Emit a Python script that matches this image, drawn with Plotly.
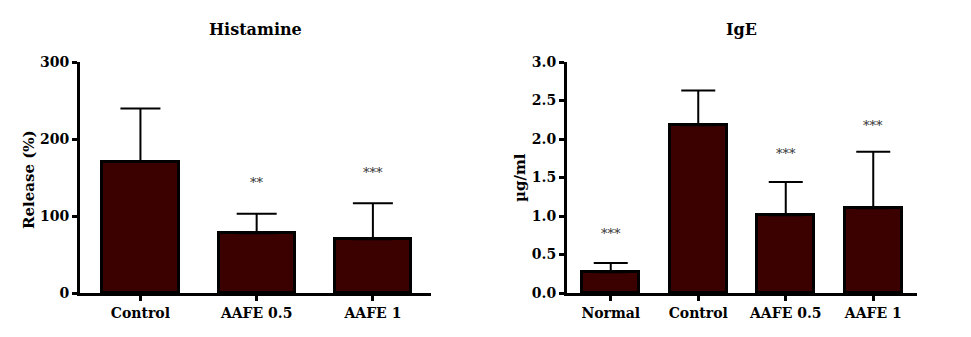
import plotly.graph_objects as go

# ---- data ----
hist_categories = ["Control", "AAFE 0.5", "AAFE 1"]
hist_values = [170.5, 77.5, 69.7]
hist_errors = [69, 25.5, 47]
hist_stars = ["", "**", "***"]
hist_star_y = [None, 143, 156]

ige_categories = ["Normal", "Control", "AAFE 0.5", "AAFE 1"]
ige_values = [0.27, 2.18, 1.01, 1.10]
ige_errors = [0.12, 0.45, 0.43, 0.735]
ige_stars = ["***", "", "***", "***"]
ige_star_y = [0.775, None, 1.81, 2.18]

hist_ticks = [0, 100, 200, 300]
ige_ticks = [0.0, 0.5, 1.0, 1.5, 2.0, 2.5, 3.0]

FILL = "#3b0000"
FONT = "DejaVu Serif"
W, H = 971, 337
OFF = 8  # page body margin offset


def px(x):
    return (x - OFF) / W


def py(y):
    return 1 - (y - OFF) / H


fig = go.Figure()

fig.add_trace(go.Bar(
    x=list(range(len(hist_categories))), y=hist_values,
    width=0.655,
    marker=dict(color=FILL, line=dict(color="black", width=3)),
    error_y=dict(type="data", symmetric=False, array=hist_errors,
                 arrayminus=[0] * len(hist_errors),
                 color="black", thickness=2, width=20),
    xaxis="x", yaxis="y", showlegend=False,
))

fig.add_trace(go.Bar(
    x=list(range(len(ige_categories))), y=ige_values,
    width=0.65,
    marker=dict(color=FILL, line=dict(color="black", width=3)),
    error_y=dict(type="data", symmetric=False, array=ige_errors,
                 arrayminus=[0] * len(ige_errors),
                 color="black", thickness=2, width=17),
    xaxis="x2", yaxis="y2", showlegend=False,
))

star_font = dict(family=FONT, size=13, color="#333333")
annotations = []
for i, (s, yv) in enumerate(zip(hist_stars, hist_star_y)):
    if s:
        annotations.append(dict(x=i, y=yv, xref="x", yref="y", text=s,
                                showarrow=False, xanchor="center",
                                yanchor="middle", font=star_font))
for i, (s, yv) in enumerate(zip(ige_stars, ige_star_y)):
    if s:
        annotations.append(dict(x=i, y=yv, xref="x2", yref="y2", text=s,
                                showarrow=False, xanchor="center",
                                yanchor="middle", font=star_font))

title_font = dict(family=FONT, size=16, color="black")
label_font = dict(family=FONT, size=15, color="black")
annotations.append(dict(x=px(255), y=py(29), xref="paper", yref="paper",
                        text="<b>Histamine</b>", showarrow=False,
                        xanchor="center", yanchor="middle", font=title_font))
annotations.append(dict(x=px(741), y=py(29), xref="paper", yref="paper",
                        text="<b>IgE</b>", showarrow=False,
                        xanchor="center", yanchor="middle", font=title_font))
annotations.append(dict(x=px(29), y=py(180), xref="paper", yref="paper",
                        text="<b>Release (%)</b>", showarrow=False, textangle=-90,
                        xanchor="center", yanchor="middle", font=label_font))
annotations.append(dict(x=px(520), y=py(178), xref="paper", yref="paper",
                        text="<b>µg/ml</b>", showarrow=False, textangle=-90,
                        xanchor="center", yanchor="middle", font=label_font))

tickfont = dict(family=FONT, size=14, color="black")
axis_common = dict(showline=True, linewidth=3, linecolor="black",
                   ticks="outside", ticklen=5, tickwidth=3, tickcolor="black",
                   showgrid=False, zeroline=False, tickfont=tickfont,
                   automargin=False)

ydom = [py(293), py(62)]

fig.update_layout(
    width=W, height=H,
    margin=dict(l=0, r=0, t=0, b=0, pad=0, autoexpand=False),
    paper_bgcolor="white", plot_bgcolor="white",
    xaxis=dict(domain=[px(80), px(431)], range=[-0.52, 2.5],
               tickmode="array", tickvals=list(range(len(hist_categories))),
               ticktext=[f"<b>{c}</b>" for c in hist_categories],
               anchor="y", **axis_common),
    yaxis=dict(domain=ydom, range=[0, 300], tickmode="array",
               tickvals=hist_ticks,
               ticktext=[f"<b>{t}</b>" for t in hist_ticks],
               anchor="x", **axis_common),
    xaxis2=dict(domain=[px(567), px(917)], range=[-0.5, 3.5],
                tickmode="array", tickvals=list(range(len(ige_categories))),
                ticktext=[f"<b>{c}</b>" for c in ige_categories],
                anchor="y2", **axis_common),
    yaxis2=dict(domain=ydom, range=[0, 3.0], tickmode="array",
                tickvals=ige_ticks,
                ticktext=[f"<b>{t:.1f}</b>" for t in ige_ticks],
                anchor="x2", **axis_common),
    annotations=annotations,
    bargap=0,
)

fig.write_html("out.html")
